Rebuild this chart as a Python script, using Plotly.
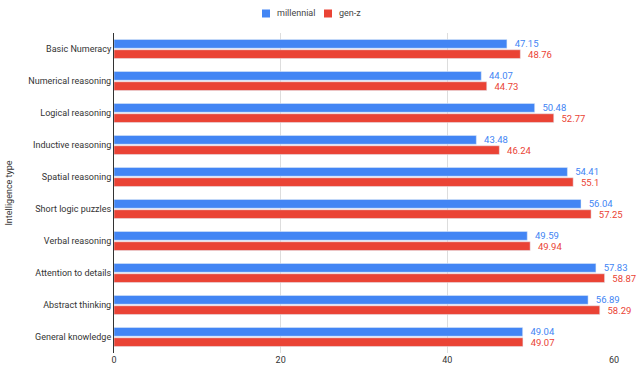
import plotly.graph_objects as go

categories = ["Basic Numeracy", "Numerical reasoning", "Logical reasoning", "Inductive reasoning",
              "Spatial reasoning", "Short logic puzzles", "Verbal reasoning", "Attention to details",
              "Abstract thinking", "General knowledge"]
millennial = [47.15, 44.07, 50.48, 43.48, 54.41, 56.04, 49.59, 57.83, 56.89, 49.04]
genz = [48.76, 44.73, 52.77, 46.24, 55.1, 57.25, 49.94, 58.87, 58.29, 49.07]
series_names = ["millennial", "gen-z"]
x_ticks = [0, 20, 40, 60]

BLUE = "#4285F4"
RED = "#EA4335"

fig = go.Figure()
for name, vals, col in [(series_names[0], millennial, BLUE), (series_names[1], genz, RED)]:
    fig.add_trace(go.Bar(y=categories, x=vals, name=name, orientation="h",
                         marker=dict(color=col), text=["\u00a0\u00a0" + str(v) for v in vals],
                         textposition="outside", constraintext="none",
                         textfont=dict(color=col, size=9.5, family="Roboto"),
                         cliponaxis=False))

# manual legend (top)
L, R, T, B = 114, 26, 33, 32
W, H = 640 - L - R, 385 - T - B
def px(x):
    return (x - L) / W
def py(y):
    return (385 - B - y) / H

legend_items = [(series_names[0], BLUE, 262), (series_names[1], RED, 324)]
for name, col, x0 in legend_items:
    fig.add_shape(type="rect", xref="paper", yref="paper",
                  x0=px(x0), x1=px(x0 + 8), y0=py(17.5), y1=py(9.5),
                  fillcolor=col, line=dict(width=0))
    fig.add_annotation(xref="paper", yref="paper", x=px(x0 + 13), y=py(13.5),
                       text=name, showarrow=False, xanchor="left", yanchor="middle",
                       font=dict(size=9, color="#444444", family="Roboto"))

fig.update_layout(
    width=640, height=385,
    margin=dict(l=L, r=R, t=T, b=B),
    barmode="group", bargap=0.36, bargroupgap=0.15,
    plot_bgcolor="white", paper_bgcolor="white",
    showlegend=False,
    font=dict(family="Roboto", size=9, color="#333333"),
    xaxis=dict(range=[0, 60], tickvals=x_ticks, showgrid=True, gridcolor="#dddddd",
               zeroline=False, ticks="", tickfont=dict(size=9), automargin=False),
    yaxis=dict(autorange="reversed", showline=True, linecolor="#333333", linewidth=1,
               title=dict(text="Intelligence type", font=dict(size=9), standoff=14),
               ticks="", tickfont=dict(size=9), automargin=False),
)

fig.write_html("out.html", config={"displayModeBar": False},
               post_script="document.body.style.margin='0';document.body.style.overflow='hidden';")
